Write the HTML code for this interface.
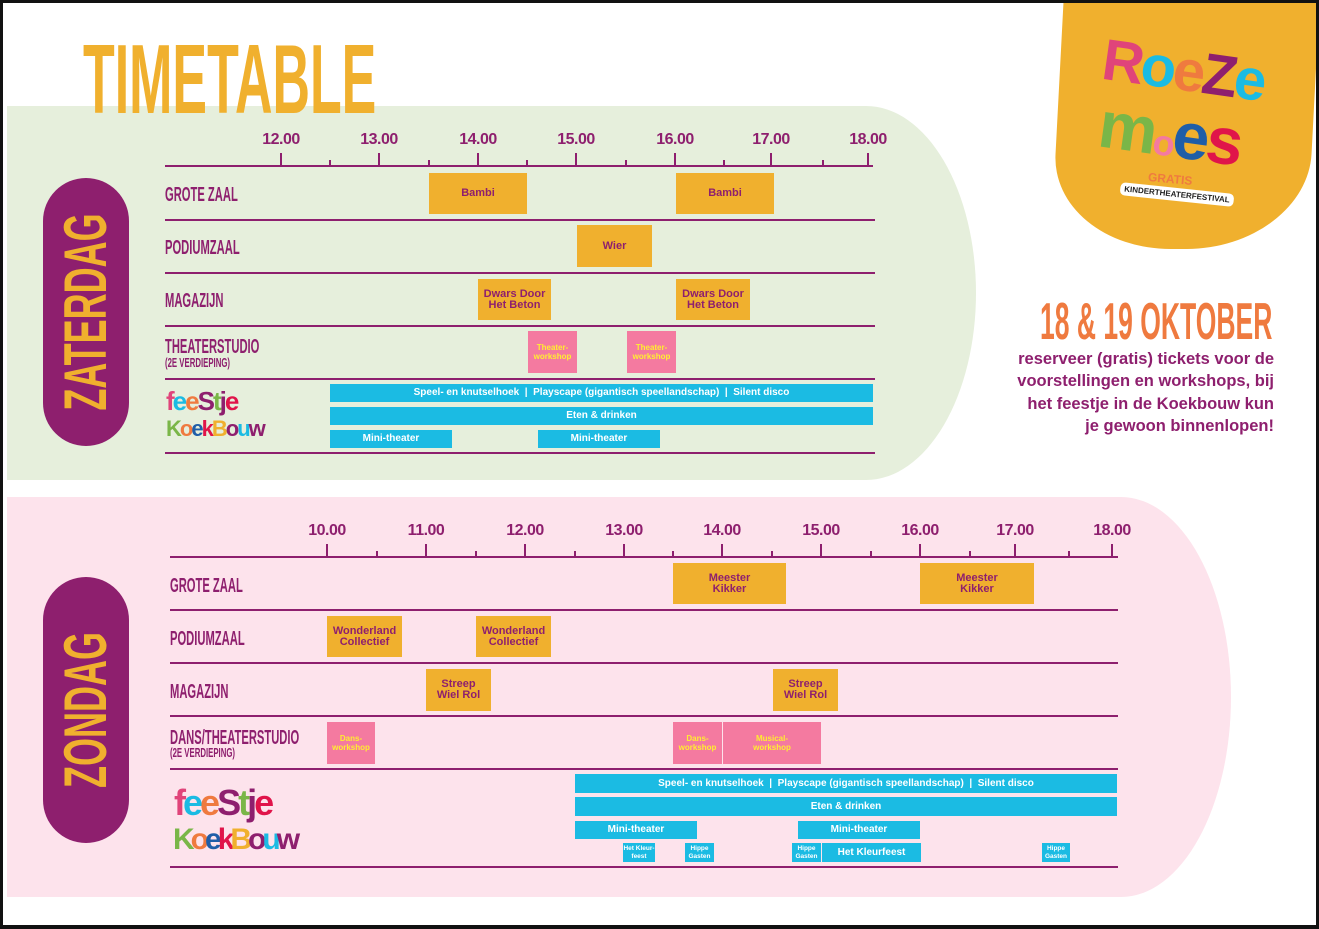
<!DOCTYPE html>
<html><head><meta charset="utf-8"><style>
*{margin:0;padding:0;box-sizing:border-box}
body{width:1319px;height:929px;position:relative;overflow:hidden;background:#fff;font-family:"Liberation Sans",sans-serif}
.a{position:absolute}
.frame{left:0;top:0;width:1319px;height:929px;border:3px solid #111;border-bottom-width:4px;z-index:50;pointer-events:none}
.panel{position:absolute}
.cond{font-weight:bold;transform-origin:0 0;white-space:nowrap;position:absolute}
.lbl{color:#8e1f6e;font-size:20px;transform:scaleX(.56);line-height:20px}
.sub{color:#8e1f6e;font-size:13px;transform:scaleX(.6);line-height:13px}
.hl{position:absolute;height:2px;background:#8e1f6e}
.tk{position:absolute;width:2px;background:#8e1f6e}
.tl{position:absolute;color:#8e1f6e;font-weight:bold;font-size:16px;letter-spacing:-.5px;width:60px;text-align:center;margin-left:-30px}
.b{position:absolute;background:#f0b02e;color:#8e1f6e;font-weight:bold;font-size:11px;line-height:11px;display:flex;align-items:center;justify-content:center;text-align:center}
.p{position:absolute;background:#f47aa0;color:#ffee30;font-weight:bold;font-size:8px;line-height:9px;display:flex;align-items:center;justify-content:center;text-align:center}
.c{position:absolute;background:#1bbbe3;color:#fff;font-weight:bold;font-size:10px;display:flex;align-items:center;justify-content:center;text-align:center;line-height:8px}
.pill{position:absolute;background:#8e1f6e;border-radius:43px;width:86px}
.pt{position:absolute;color:#f0b02e;font-weight:bold;white-space:nowrap;width:400px;text-align:center;font-size:60px;line-height:46px}
.fj{position:absolute;font-weight:bold;font-family:"Liberation Sans",sans-serif;line-height:1}
</style></head><body>
<div class="a frame"></div>
<div class="panel" style="left:7px;top:106px;width:969px;height:374px;background:#e6efdc;border-radius:0 110px 110px 0/0 187px 187px 0"></div>
<div class="panel" style="left:7px;top:497px;width:1224px;height:400px;background:#fde3ec;border-radius:0 110px 110px 0/0 200px 200px 0"></div>

<div class="cond" style="left:83px;top:30px;color:#f0b02e;font-size:98px;line-height:98px;transform:scaleX(.53)">TIMETABLE</div>

<!-- logo -->
<div class="a" style="left:1057px;top:3px;width:256px;height:246px;background:#f0b02e;border-radius:0 0 120px 120px/0 0 95px 95px;transform:skewX(-3deg)"></div>
<div class="a" style="left:1102px;top:42px;font-weight:bold;font-size:58px;line-height:58px;letter-spacing:-3px;transform:rotate(8deg)"><span style="color:#e0447a">R</span><span style="color:#1bbbe3">o</span><span style="color:#ef7a3f">e</span><span style="color:#8e1f6e">Z</span><span style="color:#1bbbe3">e</span></div>
<div class="a" style="left:1098px;top:100px;font-weight:bold;font-size:66px;line-height:66px;letter-spacing:-3px;transform:rotate(8deg)"><span style="color:#7ab648">m</span><span style="color:#f47aa0;font-size:36px">o</span><span style="color:#1f5ea8">e</span><span style="color:#e0144a">s</span></div>
<div class="a" style="left:1148px;top:172px;color:#ef7a3f;font-size:12px;font-weight:bold;transform:rotate(5deg)">GRATIS</div>
<div class="a" style="left:1120px;top:188px;background:#fff;color:#222;font-size:8px;font-weight:bold;padding:2px 4px;border-radius:5px;transform:rotate(6deg)">KINDERTHEATERFESTIVAL</div>

<div class="cond" style="left:1040px;top:296px;color:#ef7a3f;font-size:52px;line-height:52px;transform:scaleX(.51)">18 &amp; 19 OKTOBER</div>
<div class="a" style="left:940px;top:348px;width:334px;text-align:right;color:#8e1f6e;font-weight:bold;font-size:16.5px;line-height:22.3px">reserveer (gratis) tickets voor de<br>voorstellingen en workshops, bij<br>het feestje in de Koekbouw kun<br>je gewoon binnenlopen!</div>

<!-- Saturday -->
<div class="pill" style="left:43px;top:178px;height:268px"></div>
<div class="pt" style="left:-114px;top:289px;transform:rotate(-90deg) scaleX(.6)">ZATERDAG</div>

<div class="tl" style="left:281px;top:131px">12.00</div>
<div class="tl" style="left:379px;top:131px">13.00</div>
<div class="tl" style="left:478px;top:131px">14.00</div>
<div class="tl" style="left:576px;top:131px">15.00</div>
<div class="tl" style="left:675px;top:131px">16.00</div>
<div class="tl" style="left:771px;top:131px">17.00</div>
<div class="tl" style="left:868px;top:131px">18.00</div>
<div class="hl" style="left:165px;top:165px;width:708px"></div>
<div class="tk" style="left:280px;top:153px;height:13px"></div>
<div class="tk" style="left:329px;top:160px;height:6px"></div>
<div class="tk" style="left:378px;top:153px;height:13px"></div>
<div class="tk" style="left:428px;top:160px;height:6px"></div>
<div class="tk" style="left:477px;top:153px;height:13px"></div>
<div class="tk" style="left:526px;top:160px;height:6px"></div>
<div class="tk" style="left:575px;top:153px;height:13px"></div>
<div class="tk" style="left:625px;top:160px;height:6px"></div>
<div class="tk" style="left:674px;top:153px;height:13px"></div>
<div class="tk" style="left:723px;top:160px;height:6px"></div>
<div class="tk" style="left:770px;top:153px;height:13px"></div>
<div class="tk" style="left:822px;top:160px;height:6px"></div>
<div class="tk" style="left:867px;top:153px;height:13px"></div>
<div class="hl" style="left:165px;top:219px;width:710px"></div>
<div class="hl" style="left:165px;top:272px;width:710px"></div>
<div class="hl" style="left:165px;top:325px;width:710px"></div>
<div class="hl" style="left:165px;top:378px;width:710px"></div>
<div class="hl" style="left:165px;top:452px;width:710px"></div>

<div class="cond lbl" style="left:165px;top:185px">GROTE ZAAL</div>
<div class="cond lbl" style="left:165px;top:238px">PODIUMZAAL</div>
<div class="cond lbl" style="left:165px;top:291px">MAGAZIJN</div>
<div class="cond lbl" style="left:165px;top:337px">THEATERSTUDIO</div>
<div class="cond sub" style="left:165px;top:356px">(2E VERDIEPING)</div>

<div class="b" style="left:429px;top:173px;width:98px;height:41px">Bambi</div>
<div class="b" style="left:676px;top:173px;width:98px;height:41px">Bambi</div>
<div class="b" style="left:577px;top:225px;width:75px;height:42px">Wier</div>
<div class="b" style="left:478px;top:279px;width:73px;height:41px">Dwars Door<br>Het Beton</div>
<div class="b" style="left:676px;top:279px;width:74px;height:41px">Dwars Door<br>Het Beton</div>
<div class="p" style="left:528px;top:331px;width:49px;height:42px">Theater-<br>workshop</div>
<div class="p" style="left:627px;top:331px;width:49px;height:42px">Theater-<br>workshop</div>

<div class="c" style="left:330px;top:384px;width:543px;height:18px">Speel- en knutselhoek &nbsp;|&nbsp; Playscape (gigantisch speellandschap) &nbsp;|&nbsp; Silent disco</div>
<div class="c" style="left:330px;top:407px;width:543px;height:18px">Eten &amp; drinken</div>
<div class="c" style="left:330px;top:430px;width:122px;height:18px">Mini-theater</div>
<div class="c" style="left:538px;top:430px;width:122px;height:18px">Mini-theater</div>

<div class="fj" style="left:166px;top:388px;font-size:26px;letter-spacing:-2px"><span style="color:#e0447a">f</span><span style="color:#1bbbe3">e</span><span style="color:#ef7a3f">e</span><span style="color:#8e1f6e">S</span><span style="color:#7ab648">t</span><span style="color:#8e1f6e">j</span><span style="color:#e0144a">e</span></div>
<div class="fj" style="left:166px;top:418px;font-size:22px;letter-spacing:-2px"><span style="color:#7ab648">K</span><span style="color:#ef7a3f">o</span><span style="color:#1f5ea8">e</span><span style="color:#e0144a">k</span><span style="color:#f0b02e">B</span><span style="color:#8e1f6e">o</span><span style="color:#1bbbe3">u</span><span style="color:#8e1f6e">w</span></div>

<!-- Sunday -->
<div class="pill" style="left:43px;top:577px;height:266px"></div>
<div class="pt" style="left:-114px;top:687px;transform:rotate(-90deg) scaleX(.6)">ZONDAG</div>

<div class="tl" style="left:327px;top:522px">10.00</div>
<div class="tl" style="left:426px;top:522px">11.00</div>
<div class="tl" style="left:525px;top:522px">12.00</div>
<div class="tl" style="left:624px;top:522px">13.00</div>
<div class="tl" style="left:722px;top:522px">14.00</div>
<div class="tl" style="left:821px;top:522px">15.00</div>
<div class="tl" style="left:920px;top:522px">16.00</div>
<div class="tl" style="left:1015px;top:522px">17.00</div>
<div class="tl" style="left:1112px;top:522px">18.00</div>
<div class="hl" style="left:170px;top:556px;width:948px"></div>
<div class="tk" style="left:326px;top:544px;height:13px"></div>
<div class="tk" style="left:376px;top:551px;height:6px"></div>
<div class="tk" style="left:425px;top:544px;height:13px"></div>
<div class="tk" style="left:475px;top:551px;height:6px"></div>
<div class="tk" style="left:524px;top:544px;height:13px"></div>
<div class="tk" style="left:574px;top:551px;height:6px"></div>
<div class="tk" style="left:623px;top:544px;height:13px"></div>
<div class="tk" style="left:672px;top:551px;height:6px"></div>
<div class="tk" style="left:721px;top:544px;height:13px"></div>
<div class="tk" style="left:771px;top:551px;height:6px"></div>
<div class="tk" style="left:820px;top:544px;height:13px"></div>
<div class="tk" style="left:870px;top:551px;height:6px"></div>
<div class="tk" style="left:919px;top:544px;height:13px"></div>
<div class="tk" style="left:969px;top:551px;height:6px"></div>
<div class="tk" style="left:1014px;top:544px;height:13px"></div>
<div class="tk" style="left:1068px;top:551px;height:6px"></div>
<div class="tk" style="left:1111px;top:544px;height:13px"></div>
<div class="hl" style="left:170px;top:609px;width:948px"></div>
<div class="hl" style="left:170px;top:662px;width:948px"></div>
<div class="hl" style="left:170px;top:715px;width:948px"></div>
<div class="hl" style="left:170px;top:768px;width:948px"></div>
<div class="hl" style="left:170px;top:866px;width:948px"></div>

<div class="cond lbl" style="left:170px;top:576px">GROTE ZAAL</div>
<div class="cond lbl" style="left:170px;top:629px">PODIUMZAAL</div>
<div class="cond lbl" style="left:170px;top:682px">MAGAZIJN</div>
<div class="cond lbl" style="left:170px;top:728px">DANS/THEATERSTUDIO</div>
<div class="cond sub" style="left:170px;top:746px">(2E VERDIEPING)</div>

<div class="b" style="left:673px;top:563px;width:113px;height:41px">Meester<br>Kikker</div>
<div class="b" style="left:920px;top:563px;width:114px;height:41px">Meester<br>Kikker</div>
<div class="b" style="left:327px;top:616px;width:75px;height:41px">Wonderland<br>Collectief</div>
<div class="b" style="left:476px;top:616px;width:75px;height:41px">Wonderland<br>Collectief</div>
<div class="b" style="left:426px;top:669px;width:65px;height:42px">Streep<br>Wiel Rol</div>
<div class="b" style="left:773px;top:669px;width:65px;height:42px">Streep<br>Wiel Rol</div>
<div class="p" style="left:327px;top:722px;width:48px;height:42px">Dans-<br>workshop</div>
<div class="p" style="left:673px;top:722px;width:49px;height:42px">Dans-<br>workshop</div>
<div class="p" style="left:723px;top:722px;width:98px;height:42px">Musical-<br>workshop</div>

<div class="c" style="left:575px;top:774px;width:542px;height:19px">Speel- en knutselhoek &nbsp;|&nbsp; Playscape (gigantisch speellandschap) &nbsp;|&nbsp; Silent disco</div>
<div class="c" style="left:575px;top:797px;width:542px;height:19px">Eten &amp; drinken</div>
<div class="c" style="left:575px;top:821px;width:122px;height:18px">Mini-theater</div>
<div class="c" style="left:798px;top:821px;width:122px;height:18px">Mini-theater</div>
<div class="c" style="left:623px;top:843px;width:32px;height:19px;font-size:6.5px">Het Kleur-<br>feest</div>
<div class="c" style="left:685px;top:843px;width:29px;height:19px;font-size:6.5px">Hippe<br>Gasten</div>
<div class="c" style="left:792px;top:843px;width:29px;height:19px;font-size:6.5px">Hippe<br>Gasten</div>
<div class="c" style="left:822px;top:843px;width:99px;height:19px">Het Kleurfeest</div>
<div class="c" style="left:1042px;top:843px;width:28px;height:19px;font-size:6.5px">Hippe<br>Gasten</div>

<div class="fj" style="left:174px;top:785px;font-size:36px;letter-spacing:-3px"><span style="color:#e0447a">f</span><span style="color:#1bbbe3">e</span><span style="color:#ef7a3f">e</span><span style="color:#8e1f6e">S</span><span style="color:#7ab648">t</span><span style="color:#8e1f6e">j</span><span style="color:#e0144a">e</span></div>
<div class="fj" style="left:173px;top:825px;font-size:30px;letter-spacing:-4px"><span style="color:#7ab648">K</span><span style="color:#ef7a3f">o</span><span style="color:#1f5ea8">e</span><span style="color:#e0144a">k</span><span style="color:#f0b02e">B</span><span style="color:#8e1f6e">o</span><span style="color:#1bbbe3">u</span><span style="color:#8e1f6e">w</span></div>
</body></html>
